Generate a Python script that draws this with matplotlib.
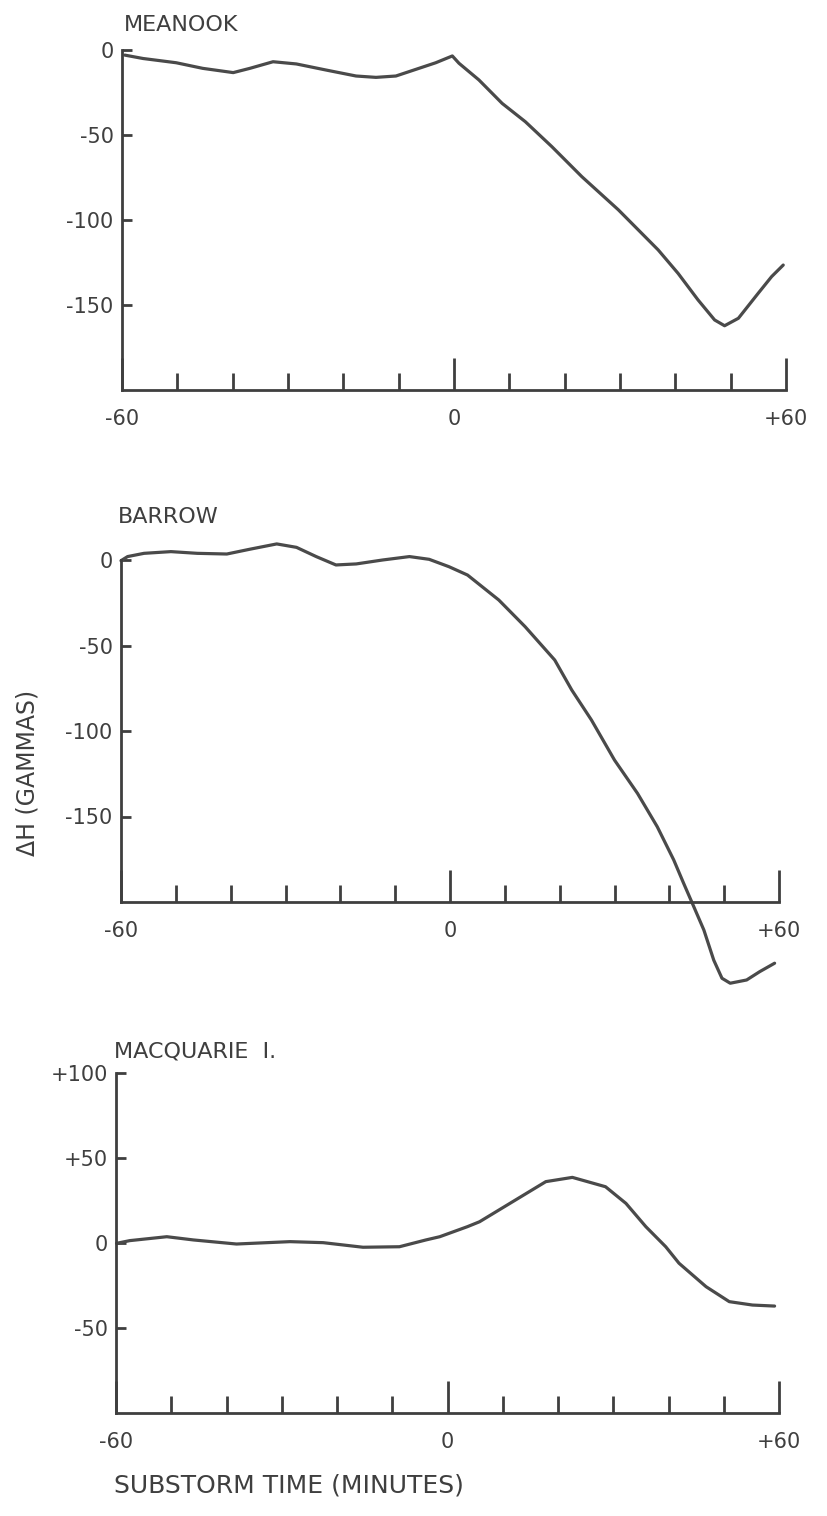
import matplotlib
matplotlib.use("Agg")
import matplotlib.pyplot as plt

# ---------------- data ----------------
stations = ["MEANOOK", "BARROW", "MACQUARIE  I."]

meanook_t = [-59.5, -56.2, -50.2, -45.4, -39.9, -36.9, -32.7, -28.5, -23.1, -17.7,
             -14.1, -10.5, -6.9, -3.3, -0.3, 0.9, 4.5, 8.7, 12.9, 17.7, 23.1,
             29.7, 36.9, 40.5, 44.1, 47.1, 48.9, 51.4, 55.0, 57.4, 59.5]
meanook_dH = [-3, -5, -7.5, -10.8, -13.3, -10.8, -6.9, -8.2, -11.8, -15.3,
              -16.1, -15.3, -11.4, -7.5, -3.5, -7.8, -17.6, -31.4, -42.2, -56.9, -74.5,
              -94, -117.6, -131.4, -147, -158.8, -162.2, -157.8, -143, -133.3, -126.5]

barrow_t = [-60, -58.8, -55.8, -50.9, -46.1, -40.7, -36.5, -31.6, -28, -24.4,
            -20.8, -17.1, -12.3, -7.4, -3.8, -0.2, 3.2, 8.9, 13.7, 19.1, 22.2,
            25.8, 30, 34.2, 37.8, 40.8, 42.6, 44.2, 46.3, 48.1, 49.6, 51.1, 54.1,
            56.5, 59.2]
barrow_dH = [-0.4, 2, 3.9, 4.9, 3.9, 3.5, 6.3, 9.4, 7.4, 2,
             -2.9, -2.3, 0, 2, 0.4, -3.9, -8.8, -23.4, -39, -58.5, -76,
             -93.6, -117, -136.5, -156, -175.4, -189, -200.8, -216.4, -234, -244.6,
             -247.5, -245.6, -240.7, -235.8]

macq_t = [-59.9, -57.5, -50.8, -46, -38.2, -28.5, -22.5, -15.3, -8.7, -3.9,
          -1.4, 3.6, 5.8, 11.8, 17.8, 22.6, 28.6, 32.3, 35.9, 39.5, 41.9, 46.8,
          51, 55.2, 59.2]
macq_dH = [-0.2, 1.4, 3.7, 1.8, -0.6, 0.8, 0.2, -2.5, -2.2, 1.8,
           3.7, 9.6, 12.5, 24.3, 36.1, 38.6, 33.1, 23.3, 9.6, -2.2, -11.9, -25.7,
           -34.5, -36.5, -37.1]

series_t = [meanook_t, barrow_t, macq_t]
series_dH = [meanook_dH, barrow_dH, macq_dH]

ylims = [(-200, 0), (-200, 0), (-100, 100)]
yticks = [[0, -50, -100, -150], [0, -50, -100, -150], [100, 50, 0, -50]]
yticklabels = [["0", "-50", "-100", "-150"], ["0", "-50", "-100", "-150"],
               ["+100", "+50", "0", "-50"]]
xmajor = [-60, 0, 60]
xmajor_labels = ["-60", "0", "+60"]
xminor = [-50, -40, -30, -20, -10, 10, 20, 30, 40, 50]

ylabel = "ΔH (GAMMAS)"
xlabel = "SUBSTORM TIME (MINUTES)"

# ---------------- layout ----------------
W, H = 827, 1516
fig = plt.figure(figsize=(W / 100, H / 100), dpi=100)
fig.patch.set_facecolor("white")

INK = "#3f3f3f"
LINE = "#4a4a4a"
plt.rcParams["font.family"] = ["DejaVu Sans"]

# pixel boxes: (left, right, top, bottom) in image coordinates
boxes = [(122, 786, 50, 390), (121, 779, 560, 902), (116, 779, 1073, 1413)]
title_pos = [(124, 25), (118, 517), (114, 1052)]

for i, (l, r, t, b) in enumerate(boxes):
    ax = fig.add_axes([l / W, 1 - b / H, (r - l) / W, (b - t) / H])
    ax.plot(series_t[i], series_dH[i], color=LINE, lw=2.3, clip_on=False,
            solid_capstyle="round", solid_joinstyle="round")
    ax.set_xlim(-60, 60)
    ax.set_ylim(*ylims[i])
    for s in ("top", "right"):
        ax.spines[s].set_visible(False)
    for s in ("left", "bottom"):
        ax.spines[s].set_color(INK)
        ax.spines[s].set_linewidth(2.0)
    ax.set_xticks(xmajor)
    ax.set_xticklabels(xmajor_labels)
    ax.set_xticks(xminor, minor=True)
    ax.set_yticks(yticks[i])
    ax.set_yticklabels(yticklabels[i])
    ax.tick_params(axis="x", which="major", direction="in", length=23, width=2,
                   color=INK, labelcolor=INK, labelsize=15, pad=14)
    ax.tick_params(axis="x", which="minor", direction="in", length=12, width=2,
                   color=INK)
    ax.tick_params(axis="y", which="major", direction="in", length=7, width=2,
                   color=INK, labelcolor=INK, labelsize=15, pad=6)
    ax.set_facecolor("none")
    tx, ty = title_pos[i]
    fig.text(tx / W, 1 - ty / H, stations[i], ha="left", va="center",
             fontsize=16, color=INK)

fig.text(28 / W, 1 - 773 / H, ylabel, rotation=90, ha="center", va="center",
         fontsize=17, color=INK)
fig.text(114 / W, 1 - 1486 / H, xlabel, ha="left", va="center",
         fontsize=18, color=INK)

fig.savefig("out.png", dpi=100, facecolor="white")
